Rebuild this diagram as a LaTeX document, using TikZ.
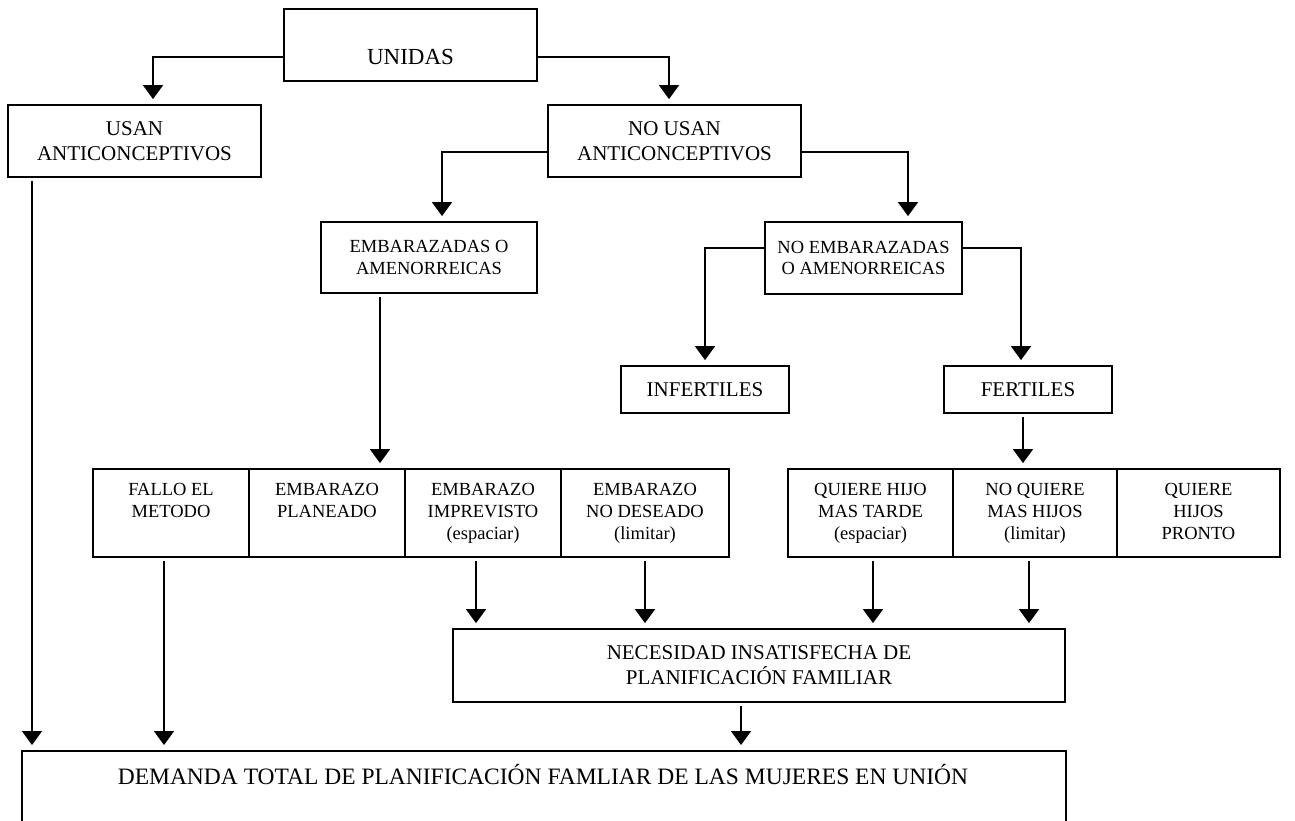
\documentclass[tikz,border=0pt]{standalone}
\usepackage{fontspec}
\setmainfont{Liberation Serif}
\usetikzlibrary{arrows.meta}
\begin{document}
\begin{tikzpicture}[x=1pt,y=-1pt,
  box/.style={draw, line width=1.8pt, inner sep=0pt, align=center},
  conn/.style={line width=1.6pt},
  arr/.style={conn, -{Triangle[width=20pt,length=14pt]}, shorten >=5pt},
  bigtxt/.style={font=\fontsize{21}{25}\selectfont},
  smalltxt/.style={font=\fontsize{18.5}{21.8}\selectfont},
  rowbox/.style={box, smalltxt, minimum height=88pt}]
\useasboundingbox (0,0) rectangle (1295,820);
\clip (0,0) rectangle (1295,820);
% helper coordinates
\coordinate (yU) at (0,57);
\coordinate (yN) at (0,152);
\coordinate (yE) at (0,248);
\coordinate (xA) at (153,0);
\coordinate (xB) at (669,0);
\coordinate (xC) at (442,0);
\coordinate (xD) at (908,0);
\coordinate (xF) at (705,0);
\coordinate (xG) at (1021,0);
\coordinate (xE) at (380,0);
\coordinate (xH) at (1023,0);
\coordinate (xI) at (32,0);
\coordinate (xJ) at (164,0);
\coordinate (xK) at (476,0);
\coordinate (xL) at (645,0);
\coordinate (xM) at (873,0);
\coordinate (xN) at (1029,0);
\coordinate (xO) at (741,0);
% boxes
\node[box, minimum width=253pt, minimum height=72pt] (unidas) at (410.5,45) {};
\node[font=\fontsize{23}{27}\selectfont, inner sep=0pt] (unidasT) at (410.5,57) {UNIDAS};
\node[box, bigtxt, minimum width=253pt, minimum height=72pt] (usan) at (134.5,141) {USAN\\ANTICONCEPTIVOS};
\node[box, bigtxt, minimum width=253pt, minimum height=72pt] (nousan) at (674.5,141) {NO USAN\\ANTICONCEPTIVOS};
\node[box, smalltxt, minimum width=216pt, minimum height=71pt] (emb) at (429,257.5) {EMBARAZADAS O\\AMENORREICAS};
\node[box, smalltxt, minimum width=197pt, minimum height=72pt] (noemb) at (863.5,258) {NO EMBARAZADAS\\O AMENORREICAS};
\node[box, bigtxt, minimum width=168pt, minimum height=47pt] (infert) at (705,389.5) {INFERTILES};
\node[box, bigtxt, minimum width=168pt, minimum height=47pt] (fert) at (1028,389.5) {FERTILES};
\node[rowbox, minimum width=156pt] (fallo) at (171,513) {\strut FALLO EL\\\strut METODO\\\strut};
\node[rowbox, minimum width=156pt] (planeado) at (327,513) {\strut EMBARAZO\\\strut PLANEADO\\\strut};
\node[rowbox, minimum width=156pt] (imprev) at (483,513) {\strut EMBARAZO\\\strut IMPREVISTO\\\strut (espaciar)};
\node[rowbox, minimum width=168pt] (nodes) at (645,513) {\strut EMBARAZO\\\strut NO DESEADO\\\strut (limitar)};
\node[rowbox, minimum width=165pt] (quiere) at (870.5,513) {\strut QUIERE HIJO\\\strut MAS TARDE\\\strut (espaciar)};
\node[rowbox, minimum width=164pt] (noquiere) at (1035,513) {\strut NO QUIERE\\\strut MAS HIJOS\\\strut (limitar)};
\node[rowbox, minimum width=163pt] (pronto) at (1198.5,513) {\strut QUIERE\\\strut HIJOS\\\strut PRONTO};
\node[box, bigtxt, minimum width=612pt, minimum height=73pt] (nec) at (759,665.5) {NECESIDAD INSATISFECHA DE\\PLANIFICACIÓN FAMILIAR};
\node[box, minimum width=1044pt, minimum height=100pt, anchor=north west] (dem) at (21,750) {};
\node[font=\fontsize{23.5}{28}\selectfont, inner sep=0pt] (demT) at (543,775) {DEMANDA TOTAL DE PLANIFICACIÓN FAMLIAR DE LAS MUJERES EN UNIÓN};
% connectors
\draw[arr] (unidas.west |- yU) -| (usan.north -| xA);
\draw[arr] (unidas.east |- yU) -| (nousan.north -| xB);
\draw[arr] (nousan.west |- yN) -| (emb.north -| xC);
\draw[arr] (nousan.east |- yN) -| (noemb.north -| xD);
\draw[arr] (noemb.west |- yE) -| (infert.north -| xF);
\draw[arr] (noemb.east |- yE) -| (fert.north -| xG);
\draw[arr, shorten <=3pt] (emb.south -| xE) -- (planeado.north -| xE);
\draw[arr, shorten <=3pt] (fert.south -| xH) -- (noquiere.north -| xH);
\draw[arr, shorten <=3pt] (usan.south -| xI) -- (dem.north -| xI);
\draw[arr, shorten <=3pt] (fallo.south -| xJ) -- (dem.north -| xJ);
\draw[arr, shorten <=3pt] (imprev.south -| xK) -- (nec.north -| xK);
\draw[arr, shorten <=3pt] (nodes.south -| xL) -- (nec.north -| xL);
\draw[arr, shorten <=3pt] (quiere.south -| xM) -- (nec.north -| xM);
\draw[arr, shorten <=3pt] (noquiere.south -| xN) -- (nec.north -| xN);
\draw[arr, shorten <=3pt] (nec.south -| xO) -- (dem.north -| xO);
\end{tikzpicture}
\end{document}
